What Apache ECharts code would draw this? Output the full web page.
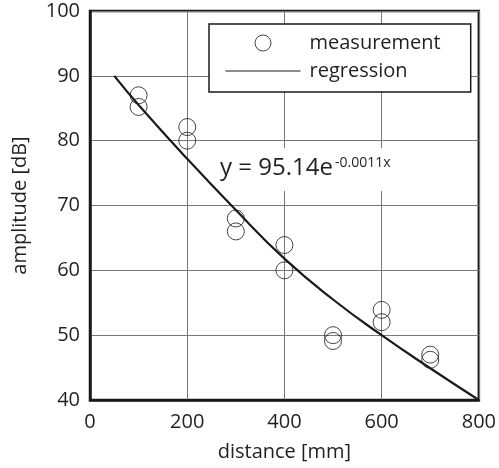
<!DOCTYPE html>
<html>
<head>
<meta charset="utf-8">
<script src="https://cdn.jsdelivr.net/npm/echarts@6/dist/echarts.min.js"></script>
<style>html,body{margin:0;padding:0;background:#fff}#c{width:499px;height:468px}</style>
</head>
<body>
<div id="c"></div>
<script>
// Measurements
var measX = [100, 100, 200, 200, 300, 300, 400, 400, 500, 500, 600, 600, 700, 700];
var measY = [87, 85.2, 82.1, 80, 68, 66, 63.9, 60, 50, 49.1, 53.9, 52, 47, 46.2];
// Regression curve
var regX = [50, 100, 200, 300, 400, 500, 600, 700, 800];
var regY = [90, 85.5, 77.2, 69.3, 61.8, 55.5, 50, 44.9, 40];
var xTicks = [0, 200, 400, 600, 800];
var yTicks = [40, 50, 60, 70, 80, 90, 100];

var FONT = '"Open Sans", "Noto Sans", sans-serif';
var TXT = '#231f20';
var chart = echarts.init(document.getElementById('c'));
chart.setOption({
  animation: false,
  grid: {left: 90, right: 17, top: 11, bottom: 68, show: true, borderColor: '#1a1a1a', borderWidth: 2.5, backgroundColor: 'transparent'},
  xAxis: {
    type: 'value', min: xTicks[0], max: xTicks[xTicks.length - 1], interval: 200,
    name: 'distance [mm]', nameLocation: 'middle', nameGap: 42,
    nameTextStyle: {fontFamily: FONT, fontSize: 20, color: TXT},
    axisLine: {show: true, lineStyle: {color: '#1a1a1a', width: 2.5}},
    axisTick: {show: false},
    axisLabel: {fontFamily: FONT, fontSize: 20, color: TXT, margin: 12},
    splitLine: {show: true, lineStyle: {color: '#777', width: 1}}
  },
  yAxis: {
    type: 'value', min: yTicks[0], max: yTicks[yTicks.length - 1], interval: 10,
    name: 'amplitude [dB]', nameLocation: 'middle', nameGap: 60,
    nameTextStyle: {fontFamily: FONT, fontSize: 20, color: TXT},
    axisLine: {show: true, lineStyle: {color: '#1a1a1a', width: 2.5}},
    axisTick: {show: false},
    axisLabel: {fontFamily: FONT, fontSize: 20, color: TXT, margin: 10},
    splitLine: {show: true, lineStyle: {color: '#777', width: 1}}
  },
  legend: {
    orient: 'vertical', left: 209, top: 24,
    padding: [9, 30, 11, 16], itemGap: 8, itemWidth: 75, itemHeight: 16,
    backgroundColor: '#fff', borderColor: '#1a1a1a', borderWidth: 1.5,
    textStyle: {fontFamily: FONT, fontSize: 20, color: TXT, padding: [0, 0, 0, 4]},
    data: [
      {name: 'measurement', icon: 'circle', itemStyle: {color: 'transparent', borderColor: '#1a1a1a', borderWidth: 1}},
      {name: 'regression', itemStyle: {opacity: 0}, lineStyle: {width: 1, color: '#1a1a1a'}}
    ]
  },
  graphic: [
    {type: 'rect', z: 1, shape: {x: 212, y: 148, width: 184, height: 43}, style: {fill: '#fff'}},
    {type: 'text', z: 1, x: 220, y: 168, style: {text: 'y = 95.14e', font: '24px ' + FONT, fill: TXT, align: 'left', verticalAlign: 'middle'}},
    {type: 'text', z: 1, x: 335, y: 163, style: {text: '-0.0011x', font: '14px ' + FONT, fill: TXT, align: 'left', verticalAlign: 'middle'}}
  ],
  series: [
    {
      name: 'measurement', type: 'scatter', symbol: 'circle', symbolSize: 17, z: 3,
      itemStyle: {color: 'transparent', borderColor: '#1a1a1a', borderWidth: 1},
      data: measX.map(function (x, i) { return [x, measY[i]]; })
    },
    {
      name: 'regression', type: 'line', smooth: true, symbol: 'none', showSymbol: false, z: 2,
      lineStyle: {color: '#1a1a1a', width: 2.2},
      data: regX.map(function (x, i) { return [x, regY[i]]; })
    }
  ]
});
</script>
</body>
</html>
